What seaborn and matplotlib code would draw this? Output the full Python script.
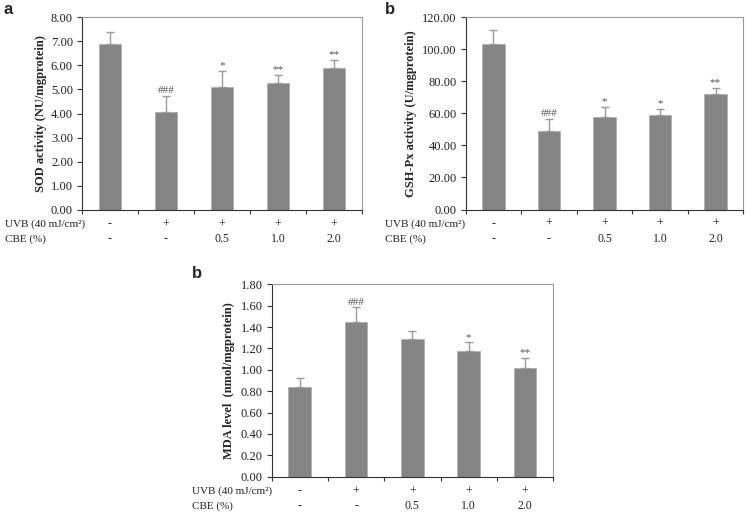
import matplotlib
matplotlib.use("Agg")
import matplotlib.pyplot as plt
import seaborn as sns
import pandas as pd
import numpy as np
from matplotlib.ticker import MultipleLocator, FormatStrFormatter, FixedLocator

sns.set_theme(style="white")
plt.rcParams['font.family'] = ['Liberation Serif', 'DejaVu Serif']

groups = ["G1", "G2", "G3", "G4", "G5"]
uvb_row = ["-", "+", "+", "+", "+"]
cbe_row = ["-", "-", "0.5", "1.0", "2.0"]

sod_mean = [6.87, 4.08, 5.10, 5.27, 5.88]
sod_err = [0.52, 0.64, 0.67, 0.34, 0.35]
sod_sig = ["", "###", "*", "**", "**"]

gsh_mean = [103.5, 49.3, 58.0, 59.3, 72.2]
gsh_err = [8.4, 7.3, 5.9, 3.7, 3.8]
gsh_sig = ["", "###", "*", "*", "**"]

mda_mean = [0.836, 1.445, 1.292, 1.173, 1.014]
mda_err = [0.091, 0.140, 0.068, 0.084, 0.094]
mda_sig = ["", "###", "", "*", "**"]

W, H = 746, 515
fig = plt.figure(figsize=(W / 100, H / 100), dpi=100)

BAR = "#858585"
ERR = "#9a9a9a"


def panel(rect_px, mean, err, sig, ymax, step, ylabel, label_x_px, row_left_px, letter, letter_xy):
    x0, y_top, x1, y_bot = rect_px
    rect = [x0 / W, 1 - y_bot / H, (x1 - x0) / W, (y_bot - y_top) / H]
    ax = fig.add_axes(rect)
    df = pd.DataFrame({"group": groups, "value": mean})
    sns.barplot(data=df, x="group", y="value", order=groups, color=BAR,
                saturation=1, width=0.4, errorbar=None, ax=ax,
                edgecolor="#b0b0b0", linewidth=0.6)
    centers = [p.get_x() + p.get_width() / 2 for p in ax.patches]
    ax.errorbar(centers, mean, yerr=[np.zeros(len(err)), err], fmt="none",
                ecolor=ERR, elinewidth=1.0, capsize=3, capthick=1.0)
    for c, m, e, s in zip(centers, mean, err, sig):
        if s:
            ax.annotate(s, (c, m + e), xytext=(0, 0.5), textcoords="offset points",
                        ha="center", va="bottom", fontsize=8, color="#555555")
    ax.set_xlim(-0.5, 4.5)
    ax.set_ylim(0, ymax)
    ax.yaxis.set_major_locator(MultipleLocator(step))
    ax.yaxis.set_major_formatter(FormatStrFormatter("%.2f"))
    ax.xaxis.set_major_locator(FixedLocator(np.arange(-0.5, 5.0, 1.0)))
    ax.set_xticklabels([])
    ax.set_xlabel("")
    ax.set_ylabel(ylabel, fontsize=9, fontweight="bold")
    ax.tick_params(axis="y", direction="out", length=3.5, width=0.8, labelsize=9,
                   left=True, pad=3, color="#333333", labelcolor="#222222")
    ax.tick_params(axis="x", direction="out", length=3, width=0.8, bottom=True,
                   color="#333333")
    for side in ["left", "bottom"]:
        ax.spines[side].set_color("#333333")
        ax.spines[side].set_linewidth(0.8)
    for side in ["top", "right"]:
        ax.spines[side].set_color("#9a9a9a")
        ax.spines[side].set_linewidth(0.8)
    trans = matplotlib.transforms.blended_transform_factory(ax.transData, ax.transAxes)
    h_px = y_bot - y_top
    y1 = -14.5 / h_px
    y2 = -29.5 / h_px
    for c, u, b in zip(centers, uvb_row, cbe_row):
        ax.text(c, y1, u, transform=trans, ha="center", va="center", fontsize=8.5,
                color="#222222")
        ax.text(c, y2, b, transform=trans, ha="center", va="center", fontsize=8.5,
                color="#222222")
    fig.text(row_left_px / W, 1 - (y_bot + 14.5) / H, "UVB (40 mJ/cm²)", ha="left",
             va="center", fontsize=8, color="#222222")
    fig.text(row_left_px / W, 1 - (y_bot + 29.5) / H, "CBE (%)", ha="left",
             va="center", fontsize=8, color="#222222")
    fig.text(letter_xy[0] / W, 1 - letter_xy[1] / H, letter, ha="left", va="center",
             fontsize=12, fontweight="bold", family="Liberation Sans")
    ax.yaxis.set_label_coords((label_x_px - x0) / (x1 - x0), 0.5)
    return ax


panel((82, 17, 362, 210), sod_mean, sod_err, sod_sig,
      8, 1, "SOD activity (NU/mgprotein)", 47, 5, "a", (3, 10))
panel((465.7, 17.3, 743.3, 209.5), gsh_mean, gsh_err, gsh_sig,
      120, 20, "GSH-Px activity (U/mgprotein)", 417, 385, "b", (385, 10))
panel((271.5, 284.3, 553.3, 476.7), mda_mean, mda_err, mda_sig,
      1.8, 0.2, "MDA level  (nmol/mgprotein)", 235, 192, "b", (192, 273))

fig.savefig("out.png", dpi=100)
